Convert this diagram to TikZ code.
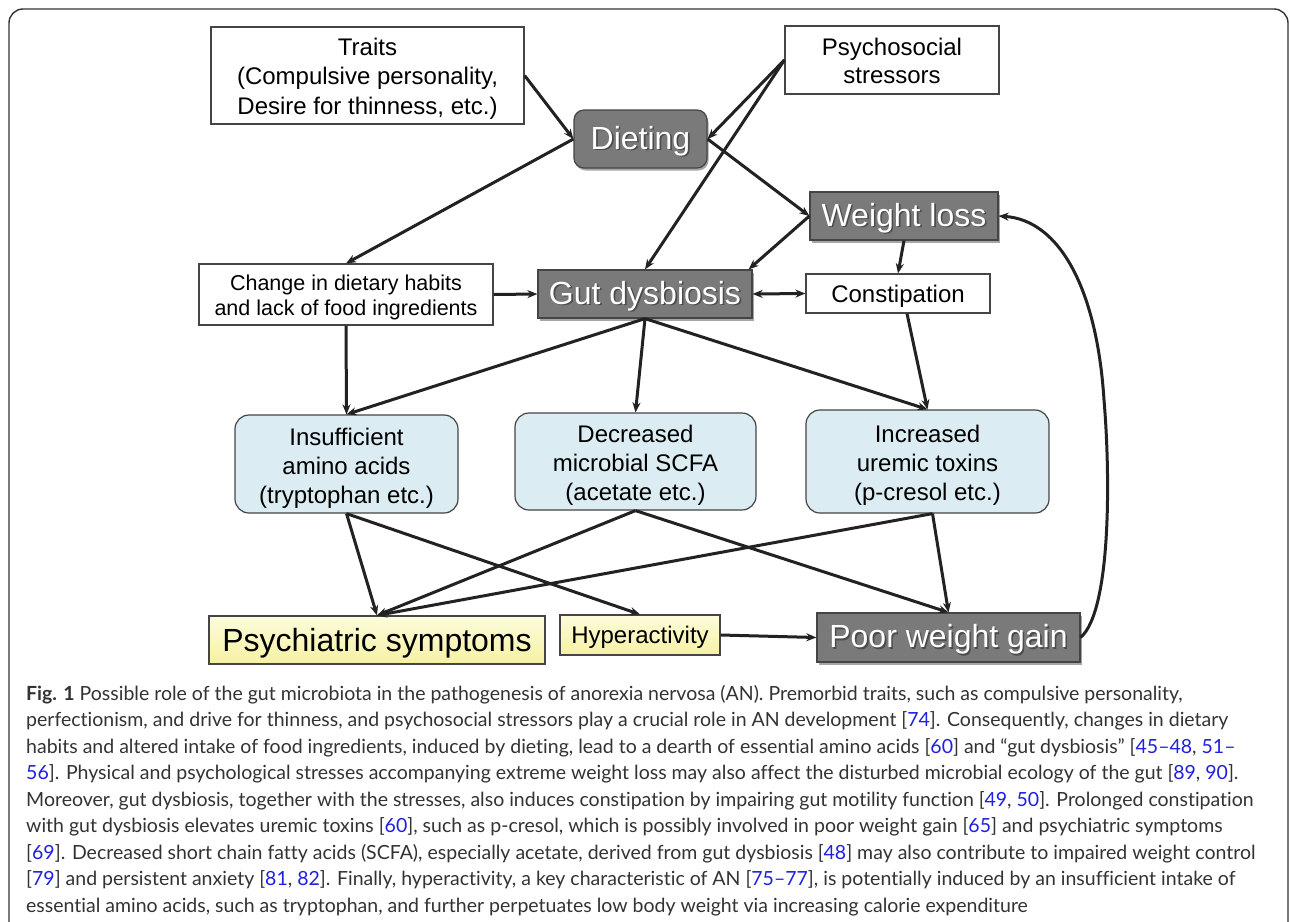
\documentclass[tikz,border=0pt]{standalone}
\usepackage{fontspec}
\setmainfont{Liberation Sans}
\newfontfamily\capfont[Ligatures={NoCommon}]{Lato}
\usetikzlibrary{arrows.meta,shadows,calc}
\definecolor{boxgray}{HTML}{7A7A7A}
\definecolor{edgegray}{HTML}{454545}
\definecolor{lblue}{HTML}{DBEDF2}
\definecolor{ytop}{HTML}{FDFCDC}
\definecolor{ybot}{HTML}{F6F1A2}
\definecolor{arrowc}{HTML}{222222}
\definecolor{capc}{HTML}{333333}
\definecolor{refc}{HTML}{2020E0}
\newcommand{\rf}[1]{\textcolor{refc}{#1}}
\newcommand{\tp}[1]{\rule{0pt}{#1}}
\newcommand{\wtxt}[1]{\tp{29pt}\makebox[0pt][l]{\hspace{1.6pt}\raisebox{-1.6pt}{\textcolor{black!70}{#1}}}\textcolor{white}{#1}}
\begin{document}
\begin{tikzpicture}[x=1pt,y=-1pt,
  box/.style={draw=edgegray, line width=1.2pt, inner sep=0pt, align=center,
    font=\fontsize{24}{29.5}\selectfont, text=black},
  whitebox/.style={box, fill=white},
  graybox/.style={box, fill=boxgray, font=\fontsize{32}{38}\selectfont,
    drop shadow={shadow xshift=1.5pt, shadow yshift=-2.5pt, opacity=0.35, fill=black}},
  bluebox/.style={box, fill=lblue, rounded corners=14pt},
  yellowbox/.style={box, top color=ytop, bottom color=ybot},
  arr/.style={draw=arrowc, line width=3pt, -{Stealth[length=10pt,width=8pt]}},
  dblarr/.style={arr, {Stealth[length=10pt,width=8pt]}-{Stealth[length=10pt,width=8pt]}},
  capline/.style={anchor=base west, inner sep=0pt, text=capc,
    font=\capfont\fontsize{19.5}{26}\selectfont}]
\useasboundingbox (0,0) rectangle (1290,921);
\fill[white] (0,0) rectangle (1290,921);
\draw[line width=1.4pt, black!80, rounded corners=14pt] (9,9) rectangle (1288,980);

% nodes
\node[whitebox, minimum width=313pt, minimum height=97pt] (traits) at (367.5,75.5)
  {\tp{23.5pt}Traits\\(Compulsive personality,\\Desire for thinness, etc.)};
\node[whitebox, minimum width=214pt, minimum height=68pt, font=\fontsize{24}{28}\selectfont] (psych) at (892,60)
  {\tp{19pt}Psychosocial\\stressors};
\node[graybox, rounded corners=10pt, minimum width=133pt, minimum height=58pt] (diet) at (640.5,139)
  {\wtxt{Dieting}};
\node[graybox, minimum width=188pt, minimum height=48pt] (wl) at (904,216)
  {\wtxt{Weight loss}};
\node[whitebox, minimum width=294pt, minimum height=61pt, font=\fontsize{21.5}{25}\selectfont] (chg) at (346,294.5)
  {\tp{21.7pt}Change in dietary habits\\and lack of food ingredients};
\node[graybox, minimum width=214pt, minimum height=48pt] (gut) at (645,294)
  {\wtxt{Gut dysbiosis}};
\node[whitebox, minimum width=184pt, minimum height=39pt] (const) at (898,293.5)
  {\tp{23.5pt}Constipation};
\node[bluebox, minimum width=223pt, minimum height=98pt, font=\fontsize{24}{29}\selectfont] (ins) at (346.5,464)
  {\tp{25.5pt}Insufficient\\amino acids\\(tryptophan etc.)};
\node[bluebox, minimum width=241pt, minimum height=97pt, font=\fontsize{24}{29}\selectfont] (dec) at (635.5,461.5)
  {\tp{25.5pt}Decreased\\microbial SCFA\\(acetate etc.)};
\node[bluebox, minimum width=243pt, minimum height=103pt, font=\fontsize{24}{29}\selectfont] (inc) at (927.5,461.5)
  {\tp{25.5pt}Increased\\uremic toxins\\(p-cresol etc.)};
\node[yellowbox, minimum width=336pt, minimum height=48pt, font=\fontsize{32}{38}\selectfont] (psy) at (377,640)
  {\tp{29pt}Psychiatric symptoms};
\node[yellowbox, minimum width=160pt, minimum height=40pt] (hyp) at (640,635)
  {\tp{21.5pt}Hyperactivity};
\node[graybox, minimum width=263pt, minimum height=49pt] (pwg) at (948.5,637.5)
  {\wtxt{Poor weight gain}};

% connectors
\draw[arr] (traits.east) -- (diet.west);
\draw[arr] (psych.west) -- (diet.east);
\draw[arr] (psych.west) -- (gut.north);
\draw[arr] (diet.east) -- (wl.west);
\draw[arr] (diet.west) -- (chg.north);
\draw[arr] (wl.west) -- ([xshift=-4pt]gut.north east);
\draw[arr] (wl.south) -- (const.north);
\draw[arr] (chg.east) -- (gut.west);
\draw[dblarr] (gut.east) -- (const.west);
\draw[arr] (chg.south) -- (ins.north);
\draw[arr] (gut.south) -- (ins.north);
\draw[arr] (gut.south) -- (dec.north);
\draw[arr] (gut.south) -- (inc.north);
\draw[arr] ([xshift=9pt]const.south) -- (inc.north);
\draw[arr] (ins.south) -- (psy.north);
\draw[arr] (ins.south) -- (hyp.north);
\draw[arr] (dec.south) -- (psy.north);
\draw[arr] (dec.south) -- (pwg.north);
\draw[arr] ([xshift=5pt]inc.south) -- (psy.north);
\draw[arr] ([xshift=5pt]inc.south) -- (pwg.north);
\draw[arr] (hyp.east) -- (pwg.west);
\draw[arr] (pwg.east) .. controls (1112,610) and (1110,470) .. (1104,400)
  .. controls (1097,290) and (1060,220) .. (wl.east);

% caption
\node[capline] (c1) at (26,700) {\textbf{Fig. 1} Possible role of the gut microbiota in the pathogenesis of anorexia nervosa (AN). Premorbid traits, such as compulsive personality,};
\node[capline] (c2) at (26,726.5) {perfectionism, and drive for thinness, and psychosocial stressors play a crucial role in AN development [\rf{74}]. Consequently, changes in dietary};
\node[capline] (c3) at (26,753) {habits and altered intake of food ingredients, induced by dieting, lead to a dearth of essential amino acids [\rf{60}] and “gut dysbiosis” [\rf{45–48}, \rf{51–}};
\node[capline] (c4) at (26,779.5) {\rf{56}]. Physical and psychological stresses accompanying extreme weight loss may also affect the disturbed microbial ecology of the gut [\rf{89}, \rf{90}].};
\node[capline] (c5) at (26,806) {Moreover, gut dysbiosis, together with the stresses, also induces constipation by impairing gut motility function [\rf{49}, \rf{50}]. Prolonged constipation};
\node[capline] (c6) at (26,832.5) {with gut dysbiosis elevates uremic toxins [\rf{60}], such as p-cresol, which is possibly involved in poor weight gain [\rf{65}] and psychiatric symptoms};
\node[capline] (c7) at (26,859) {[\rf{69}]. Decreased short chain fatty acids (SCFA), especially acetate, derived from gut dysbiosis [\rf{48}] may also contribute to impaired weight control};
\node[capline] (c8) at (26,885.5) {[\rf{79}] and persistent anxiety [\rf{81}, \rf{82}]. Finally, hyperactivity, a key characteristic of AN [\rf{75–77}], is potentially induced by an insufficient intake of};
\node[capline] (c9) at (26,912) {essential amino acids, such as tryptophan, and further perpetuates low body weight via increasing calorie expenditure};
\end{tikzpicture}
\end{document}
